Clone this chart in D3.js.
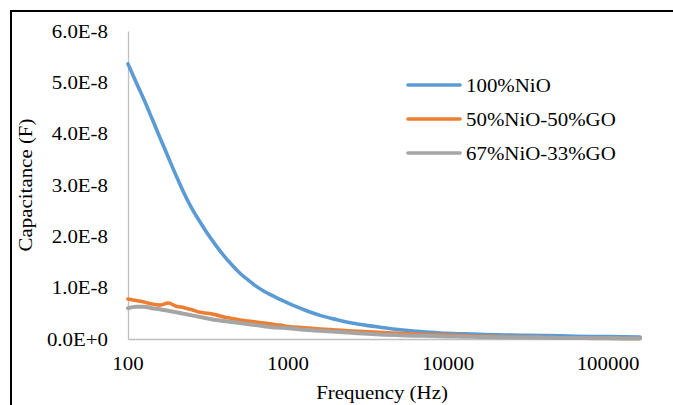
<!DOCTYPE html>
<html>
<head>
<meta charset="utf-8">
<script src="https://cdn.jsdelivr.net/npm/d3@7"></script>
<style>
  html, body { margin: 0; padding: 0; background: #fff; }
  svg { display: block; }
  text { font-family: "Liberation Serif", "Times New Roman", serif; fill: #000; }
</style>
</head>
<body>
<svg id="chart" width="673" height="405"></svg>
<script>
// ---- data (capacitance in units of 1E-8 F) ----
const frequency = [100,112,126,141,158,178,200,224,251,282,316,355,398,447,501,562,631,708,794,891,1000,
  1259,1585,1995,2512,3162,3981,5012,6310,7943,10000,12589,15849,19953,25119,31623,39811,50119,63096,79433,100000,125893,158489];
const nio100 = [5.36,5.01,4.66,4.30,3.93,3.55,3.18,2.84,2.54,2.28,2.04,1.82,1.62,1.44,1.28,1.15,1.03,0.93,0.85,0.77,0.70,
  0.57,0.46,0.38,0.31,0.26,0.22,0.18,0.15,0.13,0.11,0.10,0.09,0.08,0.075,0.07,0.065,0.06,0.055,0.05,0.047,0.044,0.04];
const nio50go50 = [0.78,0.75,0.72,0.68,0.66,0.70,0.64,0.61,0.57,0.52,0.50,0.47,0.43,0.40,0.37,0.35,0.33,0.31,0.29,0.27,0.245,
  0.22,0.195,0.175,0.155,0.14,0.125,0.11,0.095,0.085,0.075,0.065,0.055,0.05,0.04,0.035,0.03,0.025,0.02,0.02,0.015,0.01,0.01];
const nio67go33 = [0.60,0.63,0.63,0.60,0.58,0.55,0.52,0.49,0.46,0.43,0.40,0.37,0.35,0.33,0.31,0.29,0.27,0.25,0.23,0.22,0.21,
  0.18,0.16,0.14,0.12,0.10,0.085,0.075,0.065,0.06,0.05,0.045,0.04,0.035,0.03,0.03,0.025,0.02,0.02,0.015,0.015,0.01,0.01];
const unit = 1e-8;
const seriesNames = ["100%NiO", "50%NiO-50%GO", "67%NiO-33%GO"];
const seriesColors = ["#5B9BD5", "#ED7D31", "#A5A5A5"];
const yTickValues = [0, 1e-8, 2e-8, 3e-8, 4e-8, 5e-8, 6e-8];
const yTickLabels = ["0.0E+0", "1.0E-8", "2.0E-8", "3.0E-8", "4.0E-8", "5.0E-8", "6.0E-8"];
const xTickValues = [100, 1000, 10000, 100000];
const xTickLabels = ["100", "1000", "10000", "100000"];
const xTitle = "Frequency (Hz)";
const yTitle = "Capacitance (F)";

(function () {
// ---- layout ----
const svg = d3.select("#chart");
const pLeft = 128, pRight = 640, pTop = 31, pBottom = 339;
const fs = 19, sx = 1.1;

const x = d3.scaleLog().domain([100, 158489]).range([pLeft, pRight]);
const y = d3.scaleLinear().domain([0, 6e-8]).range([pBottom, pTop]);

// outer frame
svg.append("rect").attr("x", 11).attr("y", 11).attr("width", 700).attr("height", 420)
  .attr("fill", "none").attr("stroke", "#000").attr("stroke-width", 2);

function stretchedText(g, tx, ty, str, anchor, rotate) {
  const t = g.append("g").attr("transform", `translate(${tx},${ty})` + (rotate ? ` rotate(${rotate})` : "") + ` scale(${sx},1)`);
  return t.append("text").attr("text-anchor", anchor).style("font-size", fs + "px").text(str);
}

// axes (lines only, no ticks)
const yAxis = d3.axisLeft(y).tickValues(yTickValues).tickSize(0).tickFormat(() => "");
const xAxis = d3.axisBottom(x).tickValues(xTickValues).tickSize(0).tickFormat(() => "");
const gy = svg.append("g").attr("transform", `translate(${pLeft},0)`).call(yAxis);
const gx = svg.append("g").attr("transform", `translate(0,${pBottom})`).call(xAxis);
[gy, gx].forEach(g => {
  g.select(".domain").attr("stroke", "#BFBFBF").attr("stroke-width", 1.3);
  g.selectAll("text").remove();
});

const labels = svg.append("g");
yTickValues.forEach((v, i) => stretchedText(labels, 108, y(v) + 6.5, yTickLabels[i], "end"));
xTickValues.forEach((v, i) => stretchedText(labels, x(v), 370, xTickLabels[i], "middle"));
stretchedText(labels, 382, 399, xTitle, "middle");
stretchedText(labels, 32, 185, yTitle, "middle", -90);

// lines
const allSeries = [nio100, nio50go50, nio67go33];
const line = d3.line().curve(d3.curveMonotoneX).x(d => x(d[0])).y(d => y(d[1] * unit));
allSeries.forEach((vals, i) => {
  svg.append("path")
    .datum(frequency.map((f, j) => [f, vals[j]]))
    .attr("d", line)
    .attr("fill", "none")
    .attr("stroke", seriesColors[i])
    .attr("stroke-width", i === 2 ? 4 : 3.6)
    .attr("stroke-linejoin", "round")
    .attr("stroke-linecap", "round");
});

// legend
const leg = svg.append("g");
seriesNames.forEach((name, i) => {
  const ly = 85 + i * 34;
  leg.append("line").attr("x1", 408).attr("x2", 460).attr("y1", ly).attr("y2", ly)
    .attr("stroke", seriesColors[i]).attr("stroke-width", 3.6).attr("stroke-linecap", "round");
  stretchedText(leg, 466, ly + 7, name, "start");
});
})();
</script>
</body>
</html>
